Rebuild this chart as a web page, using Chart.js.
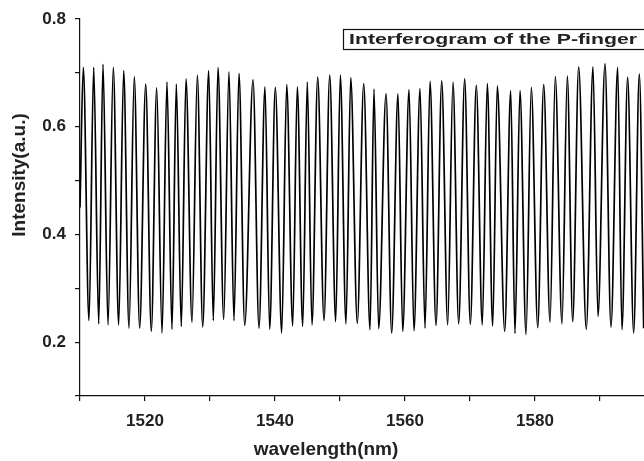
<!DOCTYPE html>
<html>
<head>
<meta charset="utf-8">
<script src="https://cdn.jsdelivr.net/npm/chart.js@4.4.1/dist/chart.umd.min.js"></script>
<style>
  html, body { margin: 0; padding: 0; background: #fff; overflow: hidden; }
  #wrap { width: 668px; height: 461px; }
</style>
</head>
<body>
<div id="wrap"><canvas id="fringeChart"></canvas></div>
<script>
// fringe maxima / minima of the spectrum (nm, a.u.)
const peakNm = [1510.51, 1512.11, 1513.54, 1515.12, 1516.72, 1518.35, 1520.11, 1521.80, 1523.38, 1524.82,
  1526.31, 1528.05, 1529.80, 1531.23, 1532.92, 1534.46, 1536.62, 1538.46, 1540.05, 1541.80,
  1543.43, 1544.97, 1546.57, 1548.42, 1550.05, 1551.65, 1553.65, 1555.23, 1557.08, 1558.92,
  1560.62, 1562.31, 1563.85, 1565.65, 1567.38, 1569.18, 1570.97, 1572.66, 1574.20, 1576.26,
  1577.69, 1579.43, 1581.34, 1583.12, 1584.97, 1586.72, 1588.92, 1590.77, 1592.72, 1594.25, 1596.05];
const peakVal = [0.710, 0.710, 0.716, 0.710, 0.704, 0.693, 0.679, 0.672, 0.683, 0.679,
  0.689, 0.696, 0.704, 0.710, 0.702, 0.699, 0.687, 0.674, 0.673, 0.678,
  0.674, 0.683, 0.692, 0.696, 0.696, 0.691, 0.680, 0.670, 0.661, 0.661,
  0.669, 0.671, 0.684, 0.685, 0.683, 0.689, 0.677, 0.680, 0.676, 0.667,
  0.667, 0.673, 0.678, 0.693, 0.694, 0.711, 0.711, 0.717, 0.710, 0.692, 0.698];
const troughNm = [1511.38, 1512.88, 1514.31, 1515.95, 1517.54, 1519.18, 1520.97, 1522.62, 1524.15, 1525.58,
  1527.23, 1528.88, 1530.51, 1532.11, 1533.69, 1535.34, 1537.54, 1539.18, 1541.03, 1542.72,
  1544.26, 1545.69, 1547.54, 1549.34, 1550.92, 1552.66, 1554.62, 1555.95, 1557.95, 1559.65,
  1561.38, 1563.08, 1564.77, 1566.57, 1568.26, 1570.05, 1571.89, 1573.49, 1575.34, 1576.92,
  1578.62, 1580.42, 1582.31, 1584.15, 1585.80, 1587.89, 1589.69, 1591.69, 1593.38, 1595.18, 1596.72];
const troughVal = [0.240, 0.234, 0.232, 0.232, 0.226, 0.226, 0.220, 0.217, 0.224, 0.229,
  0.237, 0.228, 0.240, 0.242, 0.240, 0.231, 0.226, 0.224, 0.217, 0.230,
  0.229, 0.232, 0.240, 0.238, 0.234, 0.235, 0.223, 0.225, 0.217, 0.220,
  0.221, 0.226, 0.231, 0.232, 0.234, 0.233, 0.232, 0.230, 0.220, 0.216,
  0.214, 0.227, 0.237, 0.234, 0.238, 0.224, 0.248, 0.228, 0.223, 0.217, 0.226];
// where the trace enters at the left edge
const startNm = 1510.0;
const startVal = 0.45;

const xTicks = [1520, 1540, 1560, 1580];
const yTicks = [0.2, 0.4, 0.6, 0.8];
const seriesName = 'Interferogram of the P-finger';
const xTitle = 'wavelength(nm)';
const yTitle = 'Intensity(a.u.)';

// merge maxima and minima into one trace ordered by wavelength
const trace = [{ x: startNm, y: startVal }];
for (let i = 0; i < peakNm.length; i++) {
  trace.push({ x: peakNm[i], y: peakVal[i] });
  trace.push({ x: troughNm[i], y: troughVal[i] });
}
trace.sort((a, b) => a.x - b.x);

const FONT = '"Liberation Sans", Arial, Helvetica, sans-serif';

// axis titles and the boxed label
const decorations = {
  id: 'decorations',
  afterDraw(chart) {
    const ctx = chart.ctx;
    ctx.save();
    ctx.fillStyle = '#222';
    ctx.font = 'bold 19px ' + FONT;
    ctx.textAlign = 'center';
    ctx.textBaseline = 'alphabetic';
    ctx.fillText(xTitle, 326, 455);

    ctx.save();
    ctx.translate(25, 175);
    ctx.rotate(-Math.PI / 2);
    ctx.fillText(yTitle, 0, 0);
    ctx.restore();

    // label box in the upper right
    ctx.fillStyle = '#fff';
    ctx.fillRect(343.5, 29.5, 340, 20);
    ctx.strokeStyle = '#111';
    ctx.lineWidth = 1.2;
    ctx.strokeRect(343.5, 29.5, 340, 20);
    ctx.fillStyle = '#222';
    ctx.font = 'bold 15px ' + FONT;
    ctx.textAlign = 'left';
    ctx.textBaseline = 'middle';
    const w = ctx.measureText(seriesName).width;
    ctx.translate(349, 40);
    ctx.scale(288 / w, 1);
    ctx.fillText(seriesName, 0, 0);
    ctx.restore();
  }
};

const ctx = document.getElementById('fringeChart').getContext('2d');
new Chart(ctx, {
  type: 'line',
  data: {
    datasets: [{
      label: seriesName,
      data: trace,
      borderColor: '#000',
      borderWidth: 1.7,
      pointRadius: 0,
      fill: false,
      cubicInterpolationMode: 'monotone'
    }]
  },
  options: {
    responsive: true,
    maintainAspectRatio: false,
    animation: false,
    layout: { padding: { left: 0, top: 19, right: 3, bottom: 0 } },
    plugins: {
      legend: { display: false },
      tooltip: { enabled: false }
    },
    scales: {
      x: {
        type: 'linear',
        min: 1510,
        max: 1600,
        afterFit: function(scale) {
          scale.height = 65;
          scale.paddingLeft = 0;
          scale.paddingRight = 0;
        },
        border: { display: true, color: '#111', width: 1.2 },
        grid: { drawOnChartArea: false, drawTicks: true, tickLength: 5, color: '#111', lineWidth: 1.2 },
        ticks: {
          stepSize: 10,
          autoSkip: false,
          maxRotation: 0,
          padding: 10,
          color: '#222',
          font: { family: FONT, size: 17, weight: 'bold' },
          callback: function(value) {
            return xTicks.includes(value) ? String(value) : '';
          }
        }
      },
      y: {
        min: 0.1,
        max: 0.8,
        afterFit: function(scale) {
          scale.width = 80;
          scale.paddingTop = 0;
          scale.paddingBottom = 0;
        },
        border: { display: true, color: '#111', width: 1.2 },
        grid: { drawOnChartArea: false, drawTicks: true, tickLength: 5, color: '#111', lineWidth: 1.2 },
        ticks: {
          stepSize: 0.1,
          autoSkip: false,
          padding: 9,
          color: '#222',
          font: { family: FONT, size: 17, weight: 'bold' },
          callback: function(value) {
            const v = Math.round(value * 10) / 10;
            return yTicks.includes(v) ? v.toFixed(1) : '';
          }
        }
      }
    }
  },
  plugins: [decorations]
});
</script>
</body>
</html>
